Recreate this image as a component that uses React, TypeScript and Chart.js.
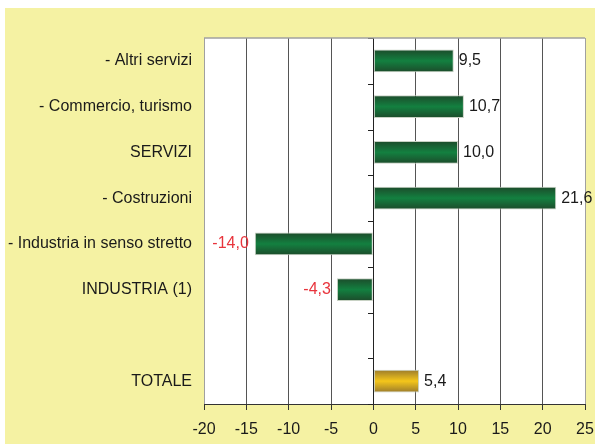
import React, { useEffect, useRef } from "react";
import { Chart, registerables } from "chart.js";

Chart.register(...registerables);

const categories = [
  "- Altri servizi",
  "- Commercio, turismo",
  "SERVIZI",
  "- Costruzioni",
  "- Industria in senso stretto",
  "INDUSTRIA (1)",
  "",
  "TOTALE",
];
const values: (number | null)[] = [9.5, 10.7, 10.0, 21.6, -14.0, -4.3, null, 5.4];
const highlighted = [false, false, false, false, false, false, false, true];
const xTicksMin = -20;
const xTicksMax = 25;
const xStep = 5;

const FONT = "'Liberation Sans', Arial, sans-serif";
const FS = 16;

function barGradient(ctx: any) {
  const chart = ctx.chart;
  const y = chart.scales?.y;
  const i = ctx.dataIndex;
  const gold = highlighted[i];
  if (!y || !chart.chartArea) return gold ? "#E8B81E" : "#157A3E";
  const c = y.getPixelForValue(i);
  const half = (y.height / categories.length) * 0.25;
  const g = chart.ctx.createLinearGradient(0, c - half, 0, c + half);
  if (gold) {
    g.addColorStop(0, "#9A7A2C");
    g.addColorStop(0.5, "#F4C61A");
    g.addColorStop(1, "#9A7A2C");
  } else {
    g.addColorStop(0, "#1C4A2A");
    g.addColorStop(0.5, "#138040");
    g.addColorStop(1, "#1C4A2A");
  }
  return g;
}

const extrasPlugin = {
  id: "extras",
  beforeDraw(chart: any) {
    const { ctx, chartArea } = chart;
    ctx.save();
    ctx.fillStyle = "#FFFFFF";
    ctx.fillRect(chartArea.left, chartArea.top, chartArea.right - chartArea.left, chartArea.bottom - chartArea.top);
    ctx.restore();
  },
  afterDatasetsDraw(chart: any) {
    const { ctx, chartArea, scales } = chart;
    const x = scales.x;
    const x0 = x.getPixelForValue(0);
    ctx.save();
    ctx.strokeStyle = "#222";
    ctx.lineWidth = 1;
    ctx.beginPath();
    ctx.moveTo(Math.round(x0) + 0.5, chartArea.top);
    ctx.lineTo(Math.round(x0) + 0.5, chartArea.bottom);
    ctx.stroke();
    const n = categories.length;
    for (let i = 0; i <= n; i++) {
      const yy = Math.round(chartArea.top + (i * (chartArea.bottom - chartArea.top)) / n) + 0.5;
      ctx.beginPath();
      ctx.moveTo(Math.round(x0) - 5, yy);
      ctx.lineTo(Math.round(x0) + 0.5, yy);
      ctx.stroke();
    }
    ctx.strokeStyle = "#A0A0A0";
    ctx.lineWidth = 1.5;
    ctx.beginPath();
    ctx.moveTo(chartArea.left, chartArea.top);
    ctx.lineTo(chartArea.right, chartArea.top);
    ctx.stroke();
    const meta = chart.getDatasetMeta(0);
    ctx.font = `${FS}px ${FONT}`;
    ctx.textBaseline = "middle";
    meta.data.forEach((bar: any, i: number) => {
      const v = values[i];
      if (v === null || v === undefined) return;
      const label = v.toFixed(1).replace(".", ",");
      if (v >= 0) {
        ctx.fillStyle = "#1a1a1a";
        ctx.textAlign = "left";
        ctx.fillText(label, bar.x + 5, bar.y);
      } else {
        ctx.fillStyle = "#E8343C";
        ctx.textAlign = "right";
        ctx.fillText(label, bar.x - 6, bar.y);
      }
    });
    ctx.restore();
  },
};

export default function App() {
  const ref = useRef<HTMLCanvasElement | null>(null);
  useEffect(() => {
    if (!ref.current) return;
    const chart = new Chart(ref.current, {
      type: "bar",
      data: {
        labels: categories,
        datasets: [
          {
            data: values as any,
            backgroundColor: barGradient as any,
            borderColor: "#C8D2C4",
            borderWidth: 1,
            borderSkipped: false,
            barPercentage: 0.5,
            categoryPercentage: 1,
          },
        ],
      },
      options: {
        indexAxis: "y",
        animation: false,
        responsive: false,
        maintainAspectRatio: false,
        layout: { padding: { top: 30, right: 10, left: 0, bottom: 0 } },
        plugins: { legend: { display: false }, tooltip: { enabled: false } },
        scales: {
          y: {
            type: "category",
            position: "left",
            grid: { display: false, drawTicks: false },
            border: { display: false },
            ticks: {
              autoSkip: false,
              padding: 12,
              color: "#1a1a1a",
              font: { family: FONT, size: FS },
            },
            afterFit(scale: any) {
              scale.width = 199;
              scale.paddingTop = 0;
              scale.paddingBottom = 0;
            },
          },
          x: {
            type: "linear",
            min: xTicksMin,
            max: xTicksMax,
            ticks: {
              stepSize: xStep,
              padding: 10,
              maxRotation: 0,
              color: "#1a1a1a",
              font: { family: FONT, size: FS },
            },
            grid: {
              color: (c: any) => {
                const v = c.tick?.value;
                if (v === xTicksMin || v === xTicksMax) return "#A0A0A0";
                if (v === 0) return "#222";
                return "#555";
              },
              tickColor: "#333",
              tickLength: 6,
              lineWidth: 1,
            },
            border: { display: true, color: "#333", width: 1 },
            afterFit(scale: any) {
              scale.height = 40;
              scale.paddingLeft = 0;
              scale.paddingRight = 0;
            },
          },
        },
      },
      plugins: [extrasPlugin],
    });
    return () => chart.destroy();
  }, []);
  return (
    <div
      style={{
        position: "absolute",
        left: 5,
        top: 8,
        width: 590,
        height: 436,
        background: "#F5F2A3",
      }}
    >
      <canvas ref={ref} width={590} height={436} style={{ display: "block" }} />
    </div>
  );
}
